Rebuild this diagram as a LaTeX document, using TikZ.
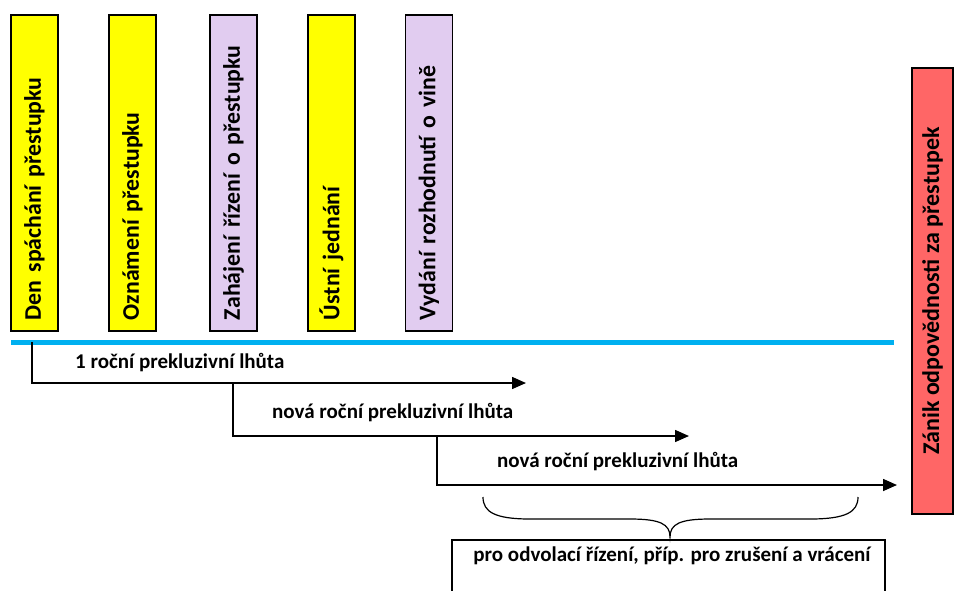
\documentclass[tikz,border=0pt]{standalone}
\usepackage{fontspec}
\setmainfont{Carlito}
\usetikzlibrary{arrows.meta}
\definecolor{evyel}{HTML}{FFFF00}
\definecolor{evlav}{HTML}{E1CCF0}
\definecolor{evred}{HTML}{FF6666}
\definecolor{evblue}{HTML}{00B0F0}
\tikzset{
  eventbox/.style={draw=black, line width=1.6pt, rotate=90, minimum width=316pt, minimum height=47pt,
    text width=294pt, inner xsep=11pt, align=left, font=\fontsize{23.8}{24}\selectfont\bfseries},
  endbox/.style={draw=black, line width=1.2pt, fill=evred, rotate=90, minimum width=446pt, minimum height=41pt,
    align=center, font=\fontsize{24}{24}\selectfont\bfseries},
  lbl/.style={anchor=west, inner sep=0pt, font=\fontsize{21}{21}\selectfont\bfseries},
  period/.style={line width=1.5pt, -{Triangle[length=14pt,width=12pt]}},
}
\begin{document}
\begin{tikzpicture}[x=1pt,y=-1pt]
\useasboundingbox (0,0) rectangle (955,590);
\clip (0,0) rectangle (955,590);
% event boxes
\node[eventbox, fill=evyel] (e1) at (34.5,173) {Den spáchání přestupku};
\node[eventbox, fill=evyel] (e2) at (132.5,173) {Oznámení přestupku};
\node[eventbox, fill=evlav] (e3) at (233.5,173) {Zahájení řízení o přestupku};
\node[eventbox, fill=evyel] (e4) at (331.5,173) {Ústní jednání};
\node[eventbox, fill=evlav] (e5) at (429,173) {Vydání rozhodnutí o vině};
% end box
\node[endbox] (zanik) at (932.5,291) {Zánik odpovědnosti za přestupek};
% time line
\coordinate (tl0) at (11,342);
\coordinate (tl1) at (894,342);
\draw[evblue, line width=5pt] (tl0) -- (tl1);
% periods
\coordinate (p1s) at (32,342);
\coordinate (p1c) at (32,383);
\coordinate (p1e) at (526,383);
\coordinate (p2s) at (233,383);
\coordinate (p2c) at (233,436);
\coordinate (p2e) at (689,436);
\coordinate (p3s) at (437,436);
\coordinate (p3c) at (437,485);
\coordinate (p3e) at (897,485);
\draw[period] (p1s) -- (p1c) -- (p1e);
\draw[period] (p2s) -- (p2c) -- (p2e);
\draw[period] (p3s) -- (p3c) -- (p3e);
\node[lbl] (l1) at (75,363) {1 roční prekluzivní lhůta};
\node[lbl] (l2) at (272,413) {nová roční prekluzivní lhůta};
\node[lbl] (l3) at (497,462) {nová roční prekluzivní lhůta};
% brace
\coordinate (b0) at (483,497);
\coordinate (bt) at (670,537);
\coordinate (b1) at (858,497);
\draw[line width=1.2pt] (b0) .. controls (483,512) and (495,519) .. (530,519) -- (630,519)
  .. controls (660,519) and (670,524) .. (bt)
  .. controls (670,524) and (680,519) .. (710,519) -- (810,519)
  .. controls (846,519) and (858,512) .. (b1);
% appeal box
\draw[line width=1.2pt] (452,540) rectangle (885,600);
\node[lbl, anchor=center] (appeal) at (672,556) {pro odvolací řízení, příp. pro zrušení a vrácení};
\end{tikzpicture}
\end{document}
